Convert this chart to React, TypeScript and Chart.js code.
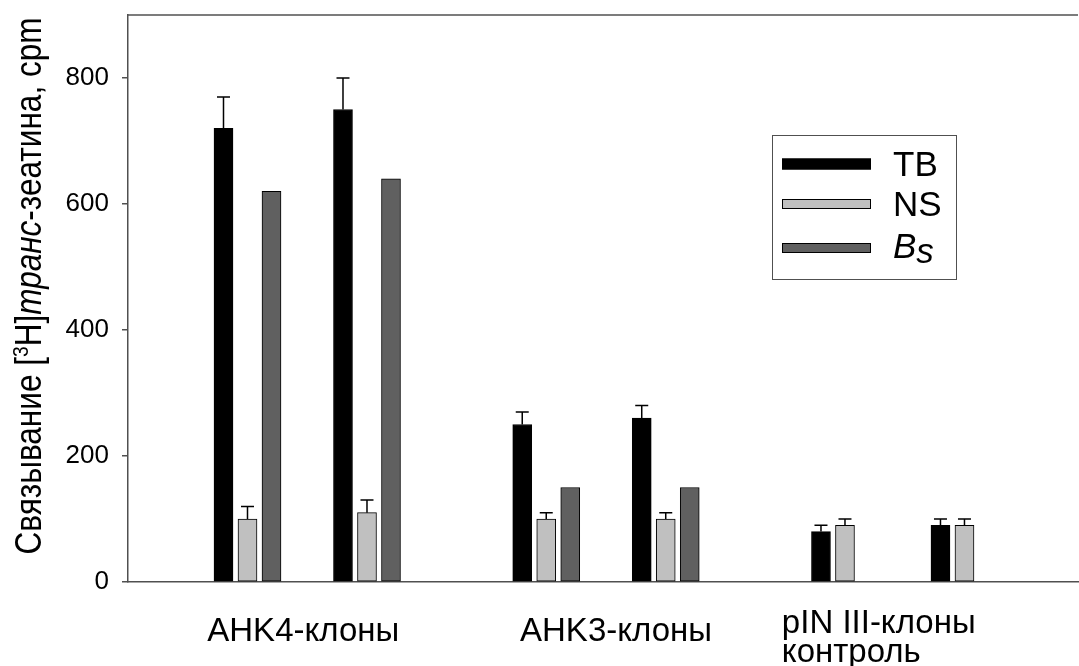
import React, { useEffect, useRef } from "react";
import { Chart, registerables } from "chart.js";

Chart.register(...registerables);

// ---- data ----
const groupLabels: string[][] = [["AHK4-клоны"], ["AHK3-клоны"], ["pIN III-клоны", "контроль"]];
const cloneGroup = [0, 0, 1, 1, 2, 2];
const clonePositions = [1, 2, 3.5, 4.5, 6, 7];
const tbValues = [720, 750, 250, 260, 80, 90];
const tbErrors = [50, 50, 20, 20, 10, 10];
const nsValues = [100, 110, 100, 100, 90, 90];
const nsErrors = [20, 20, 10, 10, 10, 10];
const bsValues: (number | null)[] = [620, 640, 150, 150, null, null];
const yTicks = [0, 200, 400, 600, 800];
const seriesNames = ["TB", "NS", "Bs"];

const FONT = '"Liberation Sans", Arial, sans-serif';
const AXIS_COLOR = "#505050";
const COLORS = ["#000000", "#c0c0c0", "#606060"];

function toPoints(values: (number | null)[], errors?: number[]) {
  const pts: any[] = [];
  values.forEach((v, i) => {
    if (v === null || v === undefined) return;
    pts.push({ x: clonePositions[i], y: v, err: errors ? errors[i] : 0 });
  });
  return pts;
}

const errorBarPlugin = {
  id: "errorBars",
  afterDatasetsDraw(chart: any) {
    const ctx = chart.ctx;
    const yScale = chart.scales.y;
    ctx.save();
    ctx.strokeStyle = "#000";
    ctx.lineWidth = 1.5;
    chart.data.datasets.forEach((ds: any, di: number) => {
      if (!ds.hasErrors) return;
      const meta = chart.getDatasetMeta(di);
      meta.data.forEach((el: any, i: number) => {
        const raw = ds.data[i];
        if (!raw || !raw.err) return;
        const top = yScale.getPixelForValue(raw.y + raw.err);
        const x = el.x;
        ctx.beginPath();
        ctx.moveTo(x, el.y);
        ctx.lineTo(x, top);
        ctx.moveTo(x - 6.5, top);
        ctx.lineTo(x + 6.5, top);
        ctx.stroke();
      });
    });
    ctx.restore();
  },
};

const decorPlugin = {
  id: "decor",
  afterDraw(chart: any) {
    const ctx = chart.ctx;
    const area = chart.chartArea;
    const xScale = chart.scales.x;
    ctx.save();

    // top frame line
    ctx.strokeStyle = AXIS_COLOR;
    ctx.lineWidth = 1.5;
    ctx.beginPath();
    ctx.moveTo(area.left, area.top);
    ctx.lineTo(area.right, area.top);
    ctx.stroke();

    // y-axis title with mixed styles
    const size = 36;
    const segs = [
      { t: "Связывание [", f: `${size}px ${FONT}`, dy: 0 },
      { t: "3", f: `${Math.round(size * 0.6)}px ${FONT}`, dy: -size * 0.36 },
      { t: "H]", f: `${size}px ${FONT}`, dy: 0 },
      { t: "транс", f: `italic ${size}px ${FONT}`, dy: 0 },
      { t: "-зеатина, cpm", f: `${size}px ${FONT}`, dy: 0 },
    ];
    let total = 0;
    const widths = segs.map((s) => {
      ctx.font = s.f;
      const w = ctx.measureText(s.t).width;
      total += w;
      return w;
    });
    const targetLen = 537;
    const sx = targetLen / total;
    ctx.translate(41, 286);
    ctx.rotate(-Math.PI / 2);
    ctx.scale(sx, 1);
    ctx.fillStyle = "#000";
    ctx.textBaseline = "alphabetic";
    ctx.textAlign = "left";
    let cx = -total / 2;
    segs.forEach((s, i) => {
      ctx.font = s.f;
      ctx.fillText(s.t, cx, s.dy);
      cx += widths[i];
    });
    ctx.setTransform(1, 0, 0, 1, 0, 0);

    // group labels
    const labelShift = [-4, 10, -26];
    const baselines = [[641], [641], [633, 662]];
    ctx.font = `33px ${FONT}`;
    ctx.fillStyle = "#000";
    groupLabels.forEach((lines, g) => {
      const pos = clonePositions.filter((_, i) => cloneGroup[i] === g);
      const center = (xScale.getPixelForValue(pos[0]) + xScale.getPixelForValue(pos[pos.length - 1])) / 2;
      const maxW = Math.max(...lines.map((l) => ctx.measureText(l).width));
      const left = center - maxW / 2 + labelShift[g];
      lines.forEach((l, li) => {
        ctx.fillText(l, left, baselines[g][li]);
      });
    });

    // legend
    ctx.strokeStyle = AXIS_COLOR;
    ctx.lineWidth = 1;
    ctx.strokeRect(772.5, 135.5, 184, 144);
    const rows = [
      { y: 158.5, h: 11, base: 176 },
      { y: 199, h: 10, base: 216 },
      { y: 243, h: 10, base: 258 },
    ];
    rows.forEach((r, i) => {
      ctx.fillStyle = COLORS[i];
      ctx.fillRect(782, r.y, 89, r.h);
      ctx.strokeStyle = "#000";
      ctx.strokeRect(782.5, r.y + 0.5, 88, r.h - 1);
      ctx.fillStyle = "#000";
      if (seriesNames[i] === "Bs") {
        ctx.font = `italic 35px ${FONT}`;
        ctx.fillText("B", 893, r.base);
        const bw = ctx.measureText("B").width;
        ctx.fillText("s", 893 + bw, r.base + 5);
      } else {
        ctx.font = `35px ${FONT}`;
        ctx.fillText(seriesNames[i], 893, r.base);
      }
    });

    ctx.restore();
  },
};

export default function App() {
  const ref = useRef<HTMLCanvasElement | null>(null);

  useEffect(() => {
    if (!ref.current) return;
    const common = {
      barThickness: 24,
      maxBarThickness: 19,
      borderWidth: 1,
      borderColor: "#000",
      borderSkipped: false,
    };
    const chart = new Chart(ref.current, {
      type: "bar",
      data: {
        datasets: [
          { label: seriesNames[0], data: toPoints(tbValues, tbErrors), backgroundColor: COLORS[0], hasErrors: true, ...common } as any,
          { label: seriesNames[1], data: toPoints(nsValues, nsErrors), backgroundColor: COLORS[1], hasErrors: true, ...common } as any,
          { label: seriesNames[2], data: toPoints(bsValues), backgroundColor: COLORS[2], hasErrors: false, ...common } as any,
        ],
      },
      options: {
        animation: false,
        responsive: false,
        maintainAspectRatio: false,
        layout: { padding: { left: 0, top: 15, right: 1, bottom: 0 } },
        plugins: { legend: { display: false }, tooltip: { enabled: false } },
        scales: {
          x: {
            type: "linear",
            offset: false,
            min: 0,
            max: 7.95,
            ticks: { display: false },
            grid: { display: false, offset: false },
            border: { display: true, color: AXIS_COLOR, width: 1.5 },
            afterFit: (s: any) => {
              s.height = 84;
              s.paddingLeft = 0;
              s.paddingRight = 0;
            },
          },
          y: {
            type: "linear",
            min: 0,
            max: 900,
            afterBuildTicks: (s: any) => {
              s.ticks = yTicks.map((v) => ({ value: v }));
            },
            ticks: {
              color: "#000",
              font: { family: FONT, size: 26 },
              padding: 13,
            },
            grid: {
              display: true,
              drawOnChartArea: false,
              drawTicks: true,
              tickLength: 6,
              color: AXIS_COLOR,
              lineWidth: 1.5,
            },
            border: { display: true, color: AXIS_COLOR, width: 1.5 },
            afterFit: (s: any) => {
              s.width = 128;
              s.paddingTop = 0;
              s.paddingBottom = 0;
            },
          },
        },
      } as any,
      plugins: [errorBarPlugin, decorPlugin],
    });
    return () => chart.destroy();
  }, []);

  return (
    <div style={{ position: "fixed", left: 0, top: 0, width: 1079, height: 666, background: "#fff" }}>
      <canvas ref={ref} width={1079} height={666} style={{ width: 1079, height: 666, display: "block" }} />
    </div>
  );
}
